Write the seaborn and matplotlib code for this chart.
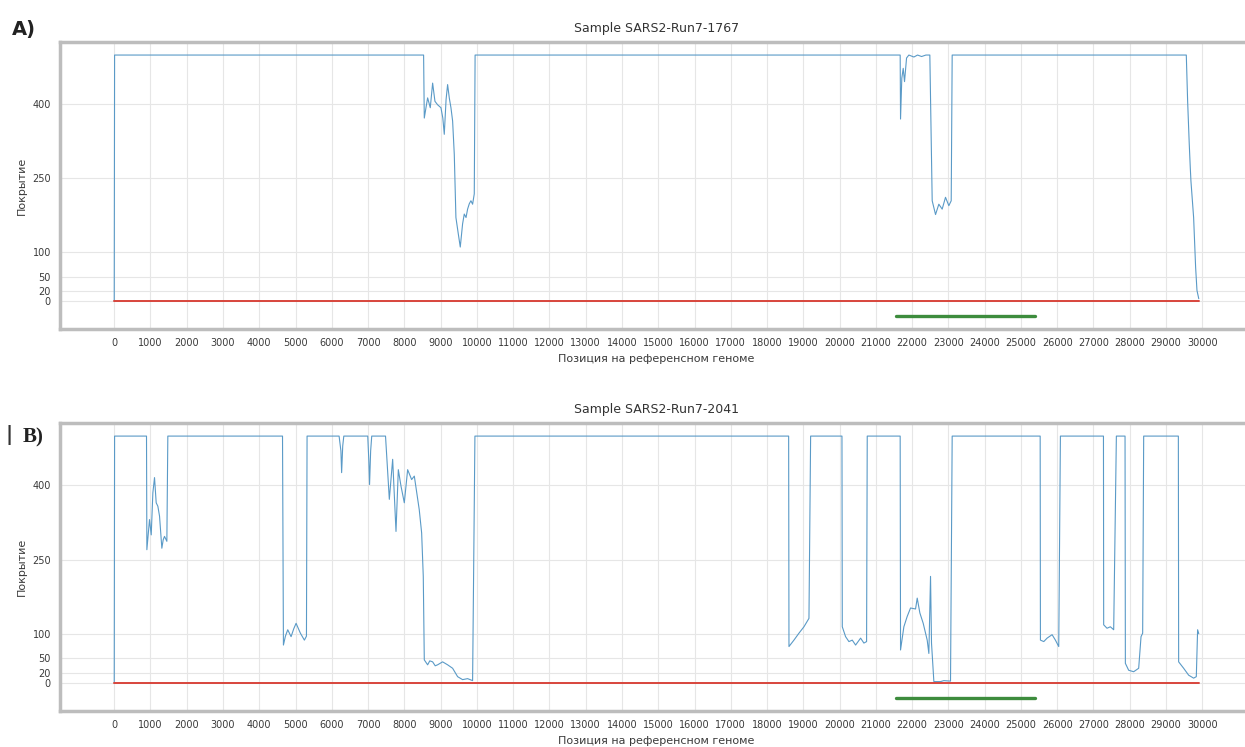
import matplotlib
matplotlib.use("Agg")
import matplotlib.pyplot as plt
import pandas as pd
import seaborn as sns

# --- data ---
GENOME_LEN = 29903
S_GENE = [21563, 25384]      # S-gene bar (green)
S_LEVEL = -30
Y_TICKS = [0, 20, 50, 100, 250, 400]
X_TICKS = list(range(0, 30001, 1000))

X_LABEL = "Позиция на референсном геноме"
Y_LABEL = "Покрытие"

SAMPLE_A = "Sample SARS2-Run7-1767"
A_POS = [0, 10, 8530, 8549, 8600, 8641, 8714, 8779, 8843, 8916,
         9008, 9060, 9100, 9150, 9192, 9240, 9284, 9330, 9376, 9421,
         9486, 9541, 9605, 9651, 9700, 9743, 9790, 9835, 9881, 9927,
         9950, 21670, 21680, 21715, 21754, 21790, 21846, 21910, 22048, 22150,
         22260, 22380, 22488, 22553, 22645, 22736, 22828, 22920, 23012, 23077,
         23104, 29559, 29596, 29640, 29669, 29687, 29761, 29816, 29853, 29903]
A_COV = [0, 500, 500, 372, 395, 413, 393, 443, 406, 399,
         393, 372, 339, 410, 440, 412, 393, 366, 298, 170,
         137, 110, 157, 177, 170, 187, 198, 204, 197, 218,
         500, 500, 370, 453, 473, 446, 494, 500, 496, 500,
         497, 500, 500, 204, 176, 197, 187, 211, 194, 204,
         500, 500, 406, 320, 271, 244, 170, 69, 22, 5]

SAMPLE_B = "Sample SARS2-Run7-2041"
B_POS = [0, 10, 890, 900, 973, 1020, 1065, 1111, 1157, 1203, 1249, 1313, 1350, 1386, 1451, 1478,
         4640, 4665, 4720, 4784, 4876, 4950, 5014, 5133, 5243, 5300, 5317,
         6200, 6250, 6270, 6300, 6330,
         6990, 7020, 7040, 7070, 7100,
         7480, 7585, 7677, 7769, 7833, 7906, 7998, 8090, 8200, 8274, 8410, 8476, 8521, 8549,
         8641, 8700, 8779, 8850, 8916, 9054, 9192, 9330, 9468, 9605, 9743, 9881, 9945,
         18595, 18604, 18741, 18879, 19017, 19155, 19201,
         20065, 20074, 20165, 20257, 20349, 20441, 20579, 20670, 20744, 20762,
         21670, 21680, 21772, 21864, 21956, 22094, 22140, 22213, 22305, 22415, 22461, 22507,
         22534, 22599, 22782, 22874, 23058, 23104,
         25530, 25537, 25629, 25721, 25859, 25950, 26042, 26088,
         27275, 27281, 27373, 27465, 27557, 27631,
         27870, 27879, 27970, 28108, 28246, 28311, 28356, 28384,
         29340, 29348, 29486, 29624, 29761, 29835, 29871, 29903]
B_COV = [0, 500, 500, 270, 331, 300, 385, 416, 365, 358, 338, 273, 290, 297, 287, 500,
         500, 77, 95, 108, 94, 110, 121, 101, 87, 95, 500,
         500, 470, 426, 480, 500,
         500, 450, 402, 470, 500,
         500, 372, 453, 307, 432, 399, 365, 432, 412, 419, 351, 304, 216, 47,
         37, 45, 43, 35, 37, 43, 37, 30, 13, 7, 9, 5, 500,
         500, 74, 87, 101, 114, 131, 500,
         500, 114, 94, 84, 87, 77, 91, 81, 84, 500,
         500, 67, 114, 135, 152, 150, 172, 142, 121, 87, 60, 216,
         81, 3, 3, 5, 4, 500,
         500, 87, 84, 91, 98, 87, 74, 500,
         500, 118, 111, 114, 108, 500,
         500, 40, 26, 23, 30, 94, 101, 500,
         500, 43, 30, 16, 10, 13, 108, 100]

assert len(A_POS) == len(A_COV) and len(B_POS) == len(B_COV)

sns.set_style("whitegrid")
plt.rcParams["font.family"] = ["DejaVu Sans"]

W, H = 1245, 747
fig = plt.figure(figsize=(W / 100, H / 100), dpi=100)
ax_a = fig.add_axes([60 / W, 1 - 329 / H, 1193 / W, 287 / H])
ax_b = fig.add_axes([60 / W, 1 - 711 / H, 1193 / W, 288 / H])


def draw_panel(ax, pos, cov, title):
    df = pd.DataFrame({"pos": pos, "cov": cov})
    sns.lineplot(data=df, x="pos", y="cov", ax=ax, estimator=None, sort=False,
                 color="#5a9ac7", lw=0.8)
    sns.lineplot(x=[0, GENOME_LEN], y=[0, 0], ax=ax, color="#d8453c", lw=1.4)
    sns.lineplot(x=S_GENE, y=[S_LEVEL, S_LEVEL], ax=ax, color="#3d8c3d", lw=2.4)

    ax.set_xticks(X_TICKS)
    ax.set_xticklabels([str(t) for t in X_TICKS], fontsize=7, color="#3a3a3a")
    ax.set_yticks(Y_TICKS)
    ax.set_yticklabels([str(t) for t in Y_TICKS], fontsize=7, color="#3a3a3a")
    ax.tick_params(length=3, width=0.8, color="#444444", direction="out")

    ax.grid(True, color="#e6e6e6", lw=0.8)
    for sp in ax.spines.values():
        sp.set_color("#bdbdbd")
        sp.set_linewidth(2.5)

    ax.set_title(title, fontsize=9, color="#333333", pad=7)
    ax.set_xlabel(X_LABEL, fontsize=8, color="#3a3a3a", labelpad=4)
    ax.set_ylabel(Y_LABEL, fontsize=8, color="#3a3a3a")


draw_panel(ax_a, A_POS, A_COV, SAMPLE_A)
draw_panel(ax_b, B_POS, B_COV, SAMPLE_B)

fig.text(24 / W, 1 - 30 / H, "A)", fontsize=14, fontweight="bold",
         ha="center", va="center", color="#222222")
fig.text(33 / W, 1 - 437 / H, "B)", fontsize=15, fontweight="bold",
         family=["Liberation Serif", "DejaVu Serif"], ha="center", va="center", color="#222222")
fig.text(9 / W, 1 - 435 / H, "|", fontsize=14, fontweight="bold",
         ha="center", va="center", color="#333333")

fig.savefig("out.png", dpi=100)
